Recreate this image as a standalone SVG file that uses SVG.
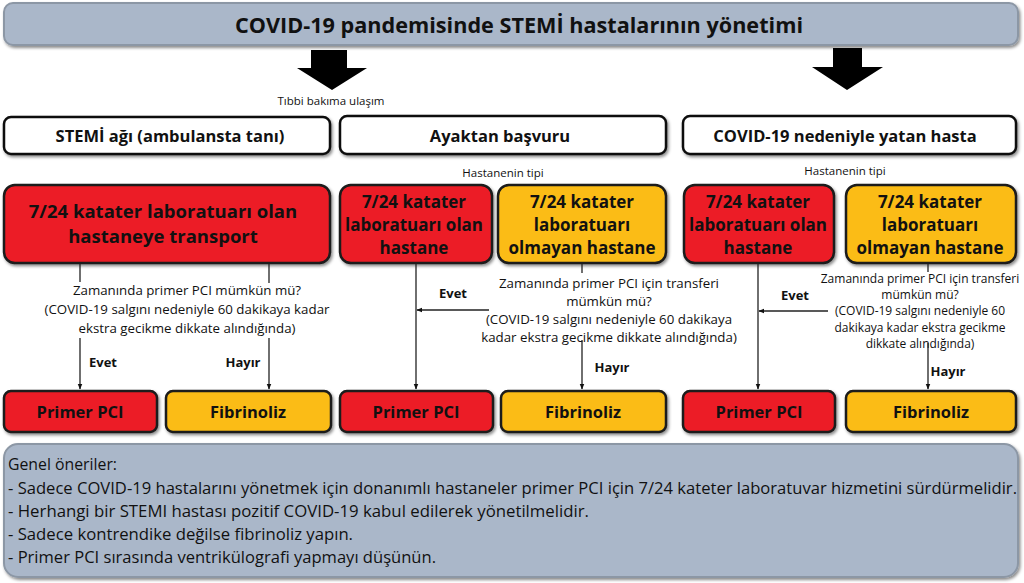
<svg xmlns="http://www.w3.org/2000/svg" width="1024" height="583" viewBox="0 0 1024 583">
<defs>
<filter id="sh" x="-5%" y="-10%" width="110%" height="130%">
<feDropShadow dx="1.5" dy="2" stdDeviation="1.5" flood-color="#000" flood-opacity="0.45"/>
</filter>
<marker id="ah" viewBox="0 0 10 10" refX="9" refY="5" markerWidth="6" markerHeight="6" orient="auto" markerUnits="userSpaceOnUse">
<path d="M0,1 L10,5 L0,9 z" fill="#111"/>
</marker>
<style>
text{font-family:"Open Sans","Noto Sans","DejaVu Sans",sans-serif;fill:#111}
.hdr{fill:#aab7c9;stroke:#8c97a5;stroke-width:2}
.wb{fill:#fff;stroke:#111;stroke-width:2.5}
.rb{fill:#ec1f26;stroke:#1a1a1a;stroke-width:2.5}
.yb{fill:#fbbc17;stroke:#1a1a1a;stroke-width:2.5}
.b{font-weight:bold;text-anchor:middle}
.t16{font-size:16.5px}
.t17{font-size:17px}
.t18{font-size:18.5px}
.sm{font-size:13.3px;text-anchor:middle}
.xs{font-size:12px;text-anchor:middle}
.lab{font-size:13px;font-weight:bold;text-anchor:middle}
.tiny{font-size:11.5px;text-anchor:middle}
.ln{stroke:#222;stroke-width:1.3;fill:none}
.body{font-size:16px}
</style>
</defs>

<g id="title">
<rect class="hdr" x="4" y="3" width="1014" height="42" rx="9" filter="url(#sh)"/>
<text class="b" x="519" y="33" font-size="21.5" textLength="568" lengthAdjust="spacingAndGlyphs">COVID-19 pandemisinde STEMİ hastalarının yönetimi</text>
</g>

<g id="bigarrows" fill="#000">
<path d="M311,50 H347 V68 H367 L332,90 L297,68 H311 Z"/>
<path d="M833,48 H862 V67 H883 L847,90 L812,67 H833 Z"/>
</g>
<text id="access-label" class="tiny" x="331" y="105">Tıbbi bakıma ulaşım</text>

<g id="n-stemi">
<rect class="wb" x="4" y="117" width="326" height="37" rx="7" filter="url(#sh)"/>
<text class="b t16" x="170" y="142">STEMİ ağı (ambulansta tanı)</text>
</g>
<g id="n-ayaktan">
<rect class="wb" x="340" y="116" width="326" height="38" rx="7" filter="url(#sh)"/>
<text class="b t16" x="500" y="142">Ayaktan başvuru</text>
</g>
<g id="n-covid">
<rect class="wb" x="683" y="116" width="333" height="38" rx="7" filter="url(#sh)"/>
<text class="b t16" x="845" y="142">COVID-19 nedeniyle yatan hasta</text>
</g>

<text id="type-label-1" class="tiny" x="503" y="177">Hastanenin tipi</text>
<text id="type-label-2" class="tiny" x="845" y="175">Hastanenin tipi</text>

<g id="n-transport">
<rect class="rb" x="4" y="185" width="326" height="78" rx="11" filter="url(#sh)"/>
<text class="b t18" x="163" y="218">7/24 katater laboratuarı olan</text>
<text class="b t18" x="163" y="243">hastaneye transport</text>
</g>
<g id="n-mid-red">
<rect class="rb" x="340" y="185" width="152" height="78" rx="11" filter="url(#sh)"/>
<text class="b t17" x="414" y="208">7/24 katater</text>
<text class="b t17" x="414" y="231">laboratuarı olan</text>
<text class="b t17" x="414" y="254">hastane</text>
</g>
<g id="n-mid-yellow">
<rect class="yb" x="498" y="185" width="168" height="78" rx="11" filter="url(#sh)"/>
<text class="b t17" x="582" y="208">7/24 katater</text>
<text class="b t17" x="582" y="231">laboratuarı</text>
<text class="b t17" x="582" y="254">olmayan hastane</text>
</g>
<g id="n-right-red">
<rect class="rb" x="684" y="185" width="150" height="78" rx="11" filter="url(#sh)"/>
<text class="b t17" x="758" y="208">7/24 katater</text>
<text class="b t17" x="758" y="231">laboratuarı olan</text>
<text class="b t17" x="758" y="254">hastane</text>
</g>
<g id="n-right-yellow">
<rect class="yb" x="846" y="185" width="170" height="78" rx="11" filter="url(#sh)"/>
<text class="b t17" x="930" y="208">7/24 katater</text>
<text class="b t17" x="930" y="231">laboratuarı</text>
<text class="b t17" x="930" y="254">olmayan hastane</text>
</g>

<g id="q-left">
<text class="sm" x="187" y="295">Zamanında primer PCI mümkün mü?</text>
<text class="sm" x="187" y="314">(COVID-19 salgını nedeniyle 60 dakikaya kadar</text>
<text class="sm" x="187" y="333">ekstra gecikme dikkate alındığında)</text>
</g>
<g id="q-mid">
<text class="sm" x="609" y="288">Zamanında primer PCI için transferi</text>
<text class="sm" x="609" y="306">mümkün mü?</text>
<text class="sm" x="609" y="324">(COVID-19 salgını nedeniyle 60 dakikaya</text>
<text class="sm" x="609" y="342">kadar ekstra gecikme dikkate alındığında)</text>
</g>
<g id="q-right">
<text class="xs" x="920" y="283">Zamanında primer PCI için transferi</text>
<text class="xs" x="920" y="299">mümkün mü?</text>
<text class="xs" x="920" y="315">(COVID-19 salgını nedeniyle 60</text>
<text class="xs" x="920" y="332">dakikaya kadar ekstra gecikme</text>
<text class="xs" x="920" y="348">dikkate alındığında)</text>
</g>

<g id="connectors">
<line class="ln" x1="80" y1="264" x2="80" y2="282"/>
<line class="ln" x1="80" y1="338" x2="80" y2="389" marker-end="url(#ah)"/>
<line class="ln" x1="269" y1="264" x2="269" y2="283"/>
<line class="ln" x1="269" y1="338" x2="269" y2="389" marker-end="url(#ah)"/>
<line class="ln" x1="416" y1="264" x2="416" y2="389" marker-end="url(#ah)"/>
<line class="ln" x1="489" y1="310" x2="417" y2="310" marker-end="url(#ah)"/>
<line class="ln" x1="582" y1="264" x2="582" y2="273"/>
<line class="ln" x1="582" y1="340" x2="582" y2="389" marker-end="url(#ah)"/>
<line class="ln" x1="758" y1="264" x2="758" y2="389" marker-end="url(#ah)"/>
<line class="ln" x1="828" y1="311" x2="759" y2="311" marker-end="url(#ah)"/>
<line class="ln" x1="928" y1="264" x2="928" y2="272"/>
<line class="ln" x1="928" y1="343" x2="928" y2="389" marker-end="url(#ah)"/>
<text class="lab" x="103" y="367">Evet</text>
<text class="lab" x="243" y="367">Hayır</text>
<text class="lab" x="453" y="298">Evet</text>
<text class="lab" x="612" y="372">Hayır</text>
<text class="lab" x="795" y="300">Evet</text>
<text class="lab" x="948" y="376">Hayır</text>
</g>

<g id="n-pci-1">
<rect class="rb" x="4" y="391" width="153" height="41" rx="7" filter="url(#sh)"/>
<text class="b t16" x="80" y="418">Primer PCI</text>
</g>
<g id="n-fib-1">
<rect class="yb" x="166" y="391" width="165" height="41" rx="7" filter="url(#sh)"/>
<text class="b t16" x="248" y="418">Fibrinoliz</text>
</g>
<g id="n-pci-2">
<rect class="rb" x="340" y="391" width="153" height="41" rx="7" filter="url(#sh)"/>
<text class="b t16" x="416" y="418">Primer PCI</text>
</g>
<g id="n-fib-2">
<rect class="yb" x="501" y="391" width="165" height="41" rx="7" filter="url(#sh)"/>
<text class="b t16" x="583" y="418">Fibrinoliz</text>
</g>
<g id="n-pci-3">
<rect class="rb" x="683" y="391" width="152" height="41" rx="7" filter="url(#sh)"/>
<text class="b t16" x="759" y="418">Primer PCI</text>
</g>
<g id="n-fib-3">
<rect class="yb" x="846" y="391" width="170" height="41" rx="7" filter="url(#sh)"/>
<text class="b t16" x="931" y="418">Fibrinoliz</text>
</g>

<g id="recommendations">
<rect class="hdr" x="4" y="444" width="1014" height="133" rx="14" filter="url(#sh)"/>
<text class="body" x="8" y="470" textLength="109" lengthAdjust="spacingAndGlyphs">Genel öneriler:</text>
<text class="body" x="8" y="494" textLength="1009" lengthAdjust="spacingAndGlyphs">- Sadece COVID-19 hastalarını yönetmek için donanımlı hastaneler primer PCI için 7/24 kateter laboratuvar hizmetini sürdürmelidir.</text>
<text class="body" x="8" y="517" textLength="581" lengthAdjust="spacingAndGlyphs">- Herhangi bir STEMI hastası pozitif COVID-19 kabul edilerek yönetilmelidir.</text>
<text class="body" x="8" y="540" textLength="345" lengthAdjust="spacingAndGlyphs">- Sadece kontrendike değilse fibrinoliz yapın.</text>
<text class="body" x="8" y="563" textLength="428" lengthAdjust="spacingAndGlyphs">- Primer PCI sırasında ventrikülografi yapmayı düşünün.</text>
</g>
</svg>
